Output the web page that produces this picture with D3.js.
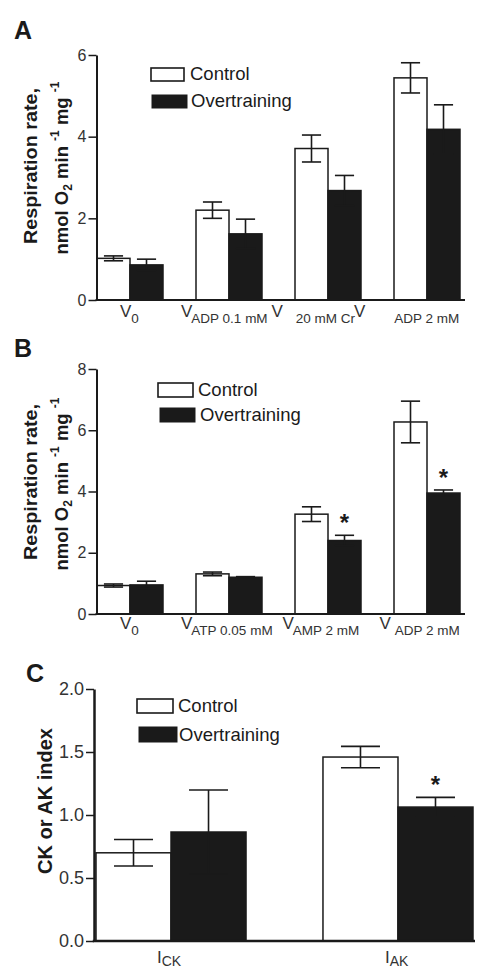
<!DOCTYPE html>
<html><head><meta charset="utf-8">
<script src="https://cdn.jsdelivr.net/npm/d3@7"></script>
<style>
body{margin:0;background:#fff}
text{font-family:"Liberation Sans",Arial,Helvetica,sans-serif;fill:#1a1a1a}
</style>
</head><body>
<svg id="chart" width="492" height="970"></svg>
<script>
// ---------- DATA ----------
const seriesNames = ["Control", "Overtraining"];

// Panel A
const labelMainA = ["V", "V", "V", "V"];
const labelSubA = ["0", "ADP 0.1 mM", "20 mM Cr", "ADP 2 mM"];
const controlA = [1.02, 2.20, 3.71, 5.44];
const controlErrA = [0.06, 0.20, 0.33, 0.37];
const overA = [0.86, 1.62, 2.68, 4.18];
const overErrA = [0.14, 0.36, 0.37, 0.60];
const sigA = [false, false, false, false];
const yTicksA = [0, 2, 4, 6];

// Panel B
const labelMainB = ["V", "V", "V", "V"];
const labelSubB = ["0", "ATP 0.05 mM", "AMP 2 mM", "ADP 2 mM"];
const controlB = [0.93, 1.31, 3.26, 6.27];
const controlErrB = [0.05, 0.06, 0.24, 0.68];
const overB = [0.95, 1.20, 2.40, 3.95];
const overErrB = [0.12, 0.02, 0.17, 0.10];
const sigB = [false, false, true, true];
const yTicksB = [0, 2, 4, 6, 8];

// Panel C
const labelMainC = ["I", "I"];
const labelSubC = ["CK", "AK"];
const controlC = [0.70, 1.46];
const controlErrC = [0.105, 0.085];
const overC = [0.865, 1.063];
const overErrC = [0.333, 0.077];
const sigC = [false, true];
const yTicksC = [0.0, 0.5, 1.0, 1.5, 2.0];

// ---------- LAYOUT ----------
const svg = d3.select("#chart");
const black = "#1a1a1a";

const panels = [
  {
    letter: "A", letterPos: [14, 39],
    main: labelMainA, sub: labelSubA,
    control: controlA, controlErr: controlErrA, over: overA, overErr: overErrA, sig: sigA,
    ticks: yTicksA, fmt: d3.format("d"), domainMax: 6,
    axisX: 96.5, xEnd: 465, yBottom: 300, yTop: 55, bandStart: 97, bandEnd: 460, padInner: 1/3,
    tickFont: 16,
    titleLines: ["Respiration rate,", "nmol"], titleCenter: 166, titleX: [37, 68], titleFont: 18.5,
    labelStart: [-10, -48, -56.5, -73], subGap: [0, -1, 13, 29],
    vBase: 317, subBase: 323, vFont: 17, subFont: 13.5,
    legend: {c: [151, 68, 33, 13], o: [152, 95, 35, 13], ct: [190, 80], ot: [191, 107]},
    capFrac: 0.29, axisW: 2
  },
  {
    letter: "B", letterPos: [14, 357],
    main: labelMainB, sub: labelSubB,
    control: controlB, controlErr: controlErrB, over: overB, overErr: overErrB, sig: sigB,
    ticks: yTicksB, fmt: d3.format("d"), domainMax: 8,
    axisX: 96.5, xEnd: 465, yBottom: 614, yTop: 369, bandStart: 97, bandEnd: 460, padInner: 1/3,
    tickFont: 16,
    titleLines: ["Respiration rate,", "nmol"], titleCenter: 482, titleX: [37, 68], titleFont: 18.5,
    labelStart: [-10, -48, -45.5, -47.5], subGap: [0, -1, -1, 4],
    vBase: 629, subBase: 635, vFont: 17, subFont: 13.5,
    legend: {c: [158, 383, 35, 14], o: [160, 408, 35, 14], ct: [198, 396], ot: [200, 421]},
    capFrac: 0.29, axisW: 2
  },
  {
    letter: "C", letterPos: [26, 682],
    main: labelMainC, sub: labelSubC,
    control: controlC, controlErr: controlErrC, over: overC, overErr: overErrC, sig: sigC,
    ticks: yTicksC, fmt: d3.format(".1f"), domainMax: 2,
    axisX: 94, xEnd: 475, yBottom: 941, yTop: 689, bandStart: 96, bandEnd: 473, padInner: 0.339,
    tickFont: 18,
    titleLines: ["CK or AK index"], titleCenter: 801, titleX: [52], titleFont: 20,
    labelStart: [-14, -13], subGap: [0, 0],
    vBase: 963, subBase: 966, vFont: 17, subFont: 14,
    legend: {c: [137, 699, 36, 14], o: [139, 727, 38, 15], ct: [178, 712], ot: [179, 741]},
    capFrac: 0.26, axisW: 2.5
  }
];

panels.forEach(p => {
  const g = svg.append("g");
  const n = p.control.length;
  const x = d3.scaleBand().domain(d3.range(n)).range([p.bandStart, p.bandEnd])
    .paddingInner(p.padInner).paddingOuter(0);
  const xs = d3.scaleBand().domain(seriesNames).range([0, x.bandwidth()]).padding(0);
  const y = d3.scaleLinear().domain([0, p.domainMax]).range([p.yBottom, p.yTop]);

  // panel letter
  g.append("text").attr("x", p.letterPos[0]).attr("y", p.letterPos[1])
    .style("font-size", "25px").attr("font-weight", "bold").text(p.letter);

  const rows = d3.range(n).map(i => ({
    i,
    vals: [
      {s: "Control", v: p.control[i], e: p.controlErr[i]},
      {s: "Overtraining", v: p.over[i], e: p.overErr[i]}
    ]
  }));

  const grp = g.selectAll("g.grp").data(rows).join("g")
    .attr("transform", d => `translate(${x(d.i)},0)`);

  grp.selectAll("rect").data(d => d.vals).join("rect")
    .attr("x", d => xs(d.s))
    .attr("y", d => y(d.v))
    .attr("width", xs.bandwidth())
    .attr("height", d => y(0) - y(d.v))
    .attr("fill", d => d.s === "Control" ? "#fff" : black)
    .attr("stroke", black).attr("stroke-width", 1.5);

  // error bars
  const cap = xs.bandwidth() * p.capFrac;
  const eb = grp.selectAll("g.eb").data(d => d.vals).join("g")
    .attr("transform", d => `translate(${xs(d.s) + xs.bandwidth() / 2},0)`);
  eb.append("line").attr("x1", 0).attr("x2", 0)
    .attr("y1", d => y(d.v - d.e)).attr("y2", d => y(d.v + d.e))
    .attr("stroke", black).attr("stroke-width", 1.6);
  eb.append("line").attr("x1", -cap).attr("x2", cap)
    .attr("y1", d => y(d.v + d.e)).attr("y2", d => y(d.v + d.e))
    .attr("stroke", black).attr("stroke-width", 1.6);
  eb.append("line").attr("x1", -cap).attr("x2", cap)
    .attr("y1", d => y(d.v - d.e)).attr("y2", d => y(d.v - d.e))
    .attr("stroke", black).attr("stroke-width", 1.6);

  // significance asterisks
  rows.forEach(r => {
    if (p.sig[r.i]) {
      const v = r.vals[1];
      g.append("text")
        .attr("x", x(r.i) + xs("Overtraining") + xs.bandwidth() / 2)
        .attr("y", y(v.v + v.e) - 4)
        .attr("text-anchor", "middle").style("font-size", "24px").attr("font-weight", "bold")
        .text("*");
    }
  });

  // y axis
  const ya = g.append("g").attr("transform", `translate(${p.axisX},0)`)
    .call(d3.axisLeft(y).tickValues(p.ticks).tickFormat(p.fmt)
      .tickSize(8).tickSizeOuter(0).tickPadding(2));
  ya.select(".domain").attr("stroke", black).attr("stroke-width", p.axisW);
  ya.selectAll(".tick line").attr("stroke", black).attr("stroke-width", 1.5);
  ya.selectAll(".tick text")
    .style("font-size", p.tickFont + "px")
    .style("font-family", '"Liberation Sans",Arial,sans-serif')
    .style("fill", "#333");

  // x axis line
  g.append("line").attr("x1", p.axisX - p.axisW / 2).attr("x2", p.xEnd)
    .attr("y1", y(0)).attr("y2", y(0))
    .attr("stroke", black).attr("stroke-width", p.axisW);

  // x labels
  rows.forEach(r => {
    const cx = x(r.i) + x.bandwidth() / 2;
    const t = g.append("text").attr("x", cx + p.labelStart[r.i]).attr("y", p.vBase)
      .style("fill", "#333");
    t.append("tspan").style("font-size", p.vFont + "px").text(p.main[r.i]);
    t.append("tspan").style("font-size", p.subFont + "px").attr("dx", p.subGap[r.i])
      .attr("dy", p.subBase - p.vBase).text(p.sub[r.i]);
  });

  // y title
  if (p.titleLines.length === 1) {
    g.append("text")
      .attr("transform", `translate(${p.titleX[0]},${p.titleCenter}) rotate(-90)`)
      .attr("text-anchor", "middle").style("font-size", p.titleFont + "px").attr("font-weight", "bold")
      .text(p.titleLines[0]);
  } else {
    g.append("text")
      .attr("transform", `translate(${p.titleX[0]},${p.titleCenter}) rotate(-90)`)
      .attr("text-anchor", "middle").style("font-size", p.titleFont + "px").attr("font-weight", "bold")
      .attr("textLength", 156).attr("lengthAdjust", "spacingAndGlyphs")
      .text(p.titleLines[0]);
    const t2 = g.append("text")
      .attr("transform", `translate(${p.titleX[1]},${p.titleCenter + 2}) rotate(-90)`)
      .attr("text-anchor", "middle").style("font-size", p.titleFont + "px").attr("font-weight", "bold");
    t2.append("tspan").text("nmol O");
    t2.append("tspan").style("font-size", "12px").attr("dy", 4).text("2");
    t2.append("tspan").attr("dy", -4).text(" min ");
    t2.append("tspan").style("font-size", "12px").attr("dy", -9).text("-1");
    t2.append("tspan").attr("dy", 9).text(" mg ");
    t2.append("tspan").style("font-size", "12px").attr("dy", -9).text("-1");
  }

  // legend
  const L = p.legend;
  g.append("rect").attr("x", L.c[0]).attr("y", L.c[1]).attr("width", L.c[2]).attr("height", L.c[3])
    .attr("fill", "#fff").attr("stroke", black).attr("stroke-width", 1.6);
  g.append("rect").attr("x", L.o[0]).attr("y", L.o[1]).attr("width", L.o[2]).attr("height", L.o[3])
    .attr("fill", black).attr("stroke", black).attr("stroke-width", 1);
  g.append("text").attr("x", L.ct[0]).attr("y", L.ct[1]).style("font-size", "18.5px").text(seriesNames[0]);
  g.append("text").attr("x", L.ot[0]).attr("y", L.ot[1]).style("font-size", "18.5px").text(seriesNames[1]);
});
</script>
</body></html>
